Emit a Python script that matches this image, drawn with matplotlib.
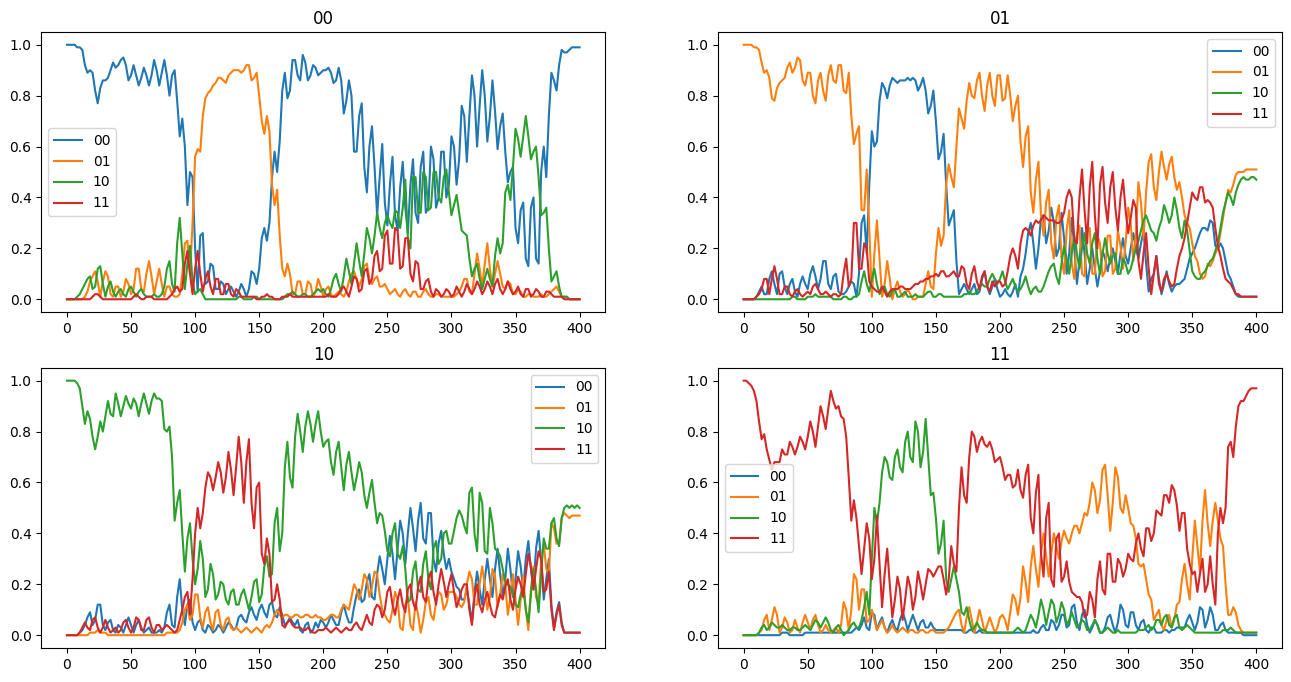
import matplotlib.pyplot as plt
import numpy as np

# sampled every 2 time steps, values in percent
t = np.arange(0, 401, 2)
labels = ['00', '01', '10', '11']

# ---- start in 00 ----
s00_00 = [100,100,100,100,99,99,98,92,89,90,
          89,82,77,83,86,86,87,90,93,91,
          92,94,95,92,86,88,92,88,84,87,
          91,88,84,88,94,90,84,89,94,88,
          80,88,90,78,64,71,60,37,50,48,
          20,3,25,26,6,7,14,13,4,4,
          7,6,2,4,5,3,1,3,6,4,
          1,4,11,10,6,12,24,28,23,30,
          48,58,50,62,82,89,79,82,94,94,
          88,86,96,93,86,88,92,91,88,89,
          90,90,91,89,85,86,91,86,73,78,
          86,80,58,58,72,77,52,42,60,68,
          52,33,48,61,38,29,45,56,33,27,
          44,54,36,26,45,55,34,30,52,58,
          34,36,60,55,36,40,58,58,40,45,
          64,60,45,55,76,72,54,72,88,80,
          60,76,90,80,62,72,86,74,59,68,
          73,58,46,50,52,28,22,35,38,16,
          13,36,40,16,14,50,60,48,72,89,
          86,82,92,98,97,97,98,99,99,99,
          99]
s00_01 = [0,0,0,0,0,0,0,1,3,7,
          9,11,7,1,7,11,9,2,1,5,
          5,1,3,8,6,2,4,12,12,4,
          3,10,15,9,2,7,12,6,1,5,
          5,2,1,1,2,10,22,23,10,30,
          56,59,58,72,79,81,82,84,85,87,
          87,86,85,88,89,90,90,90,89,90,
          92,92,86,87,89,80,70,65,72,66,
          45,37,43,25,12,9,14,10,2,2,
          7,7,2,2,7,6,1,3,8,5,
          1,4,5,2,1,2,3,2,1,3,
          7,10,11,8,5,8,13,14,8,6,
          8,9,5,5,6,4,2,3,4,2,
          1,3,4,2,1,3,3,1,1,3,
          4,2,1,1,2,2,1,1,1,1,
          1,1,2,3,5,8,8,3,2,10,
          18,12,5,14,22,12,5,10,15,10,
          5,4,7,6,2,2,4,3,1,1,
          2,2,1,1,1,2,1,1,2,3,
          4,5,3,1,1,1,0,0,0,0,
          0]
s00_10 = [0,0,0,0,1,2,4,6,8,9,
          4,5,12,13,6,1,5,7,3,1,
          3,4,2,1,4,5,3,1,3,4,
          2,1,1,1,2,1,1,2,5,12,
          15,6,3,22,32,18,4,14,21,7,
          2,3,4,2,0,0,0,0,0,0,
          0,0,0,0,0,0,0,1,1,0,
          0,0,0,1,1,0,0,0,0,0,
          0,0,0,0,0,1,2,2,3,2,
          1,1,2,2,1,1,2,3,4,3,
          4,2,1,4,8,10,6,3,9,16,
          11,6,14,22,15,9,18,28,24,18,
          25,34,28,24,30,33,30,28,35,34,
          28,36,47,24,20,48,48,34,34,50,
          48,35,36,50,50,40,38,48,51,42,
          33,37,41,34,27,26,25,16,9,12,
          14,8,4,8,12,8,5,17,24,18,
          22,42,45,39,52,67,63,56,64,72,
          64,55,58,60,48,33,34,36,20,7,
          9,11,5,1,1,1,0,0,0,0,
          0]
s00_11 = [0,0,0,0,0,0,0,0,0,0,
          1,2,2,1,0,0,0,0,0,0,
          0,0,0,0,0,0,1,2,1,0,
          0,1,1,1,0,0,0,0,0,0,
          1,2,4,5,3,4,14,19,10,2,
          12,19,10,3,8,11,5,2,8,8,
          2,2,6,6,2,1,4,3,1,1,
          1,1,1,1,0,0,1,1,2,1,
          1,0,0,0,1,1,1,2,1,1,
          1,1,1,1,1,1,1,1,1,1,
          1,1,2,1,1,1,2,4,5,3,
          1,5,9,8,3,4,11,12,6,8,
          17,19,11,12,25,27,14,14,28,27,
          12,13,24,24,10,7,15,14,4,4,
          7,8,3,1,4,3,1,2,4,3,
          1,2,5,3,1,3,6,4,2,4,
          7,5,2,4,7,5,2,6,8,4,
          2,4,7,4,2,3,5,2,1,4,
          4,1,2,4,3,1,1,3,3,2,
          1,1,1,1,0,0,0,0,0,0,
          0]

# ---- start in 01 ----
s01_00 = [0,0,0,0,0,1,3,5,2,2,
          8,11,6,2,10,11,5,2,6,8,
          3,1,6,9,6,4,10,13,9,4,
          8,15,15,6,4,9,10,3,2,2,
          3,5,7,6,1,10,30,33,18,45,
          66,60,62,78,85,83,79,84,87,86,
          85,86,86,86,87,86,87,86,82,84,
          87,82,73,76,82,70,55,58,65,45,
          29,32,35,15,2,4,6,4,2,4,
          6,2,3,8,11,5,2,5,8,4,
          1,2,4,2,1,3,6,1,9,12,
          18,26,30,22,12,20,32,33,22,27,
          36,30,17,20,34,24,10,18,32,20,
          6,15,28,18,6,12,20,12,5,11,
          19,16,11,16,20,15,10,18,24,17,
          14,20,26,20,16,22,27,14,3,8,
          10,17,8,2,6,11,6,3,5,6,
          6,7,8,12,16,18,20,23,26,28,
          28,27,31,30,21,20,22,20,15,10,
          8,5,2,1,1,1,1,1,1,1,
          1]
s01_01 = [100,100,100,100,99,99,98,93,89,90,
          87,79,78,83,85,86,87,91,93,89,
          91,95,94,86,84,89,89,80,77,86,
          89,82,78,88,92,86,85,92,92,82,
          81,89,72,61,65,68,35,35,51,28,
          1,18,31,16,1,6,15,8,0,4,
          7,3,1,2,4,2,0,0,1,1,
          1,6,11,5,4,18,28,21,25,45,
          53,48,44,60,75,71,67,78,85,80,
          79,86,89,80,74,84,89,80,76,88,
          88,78,79,88,80,70,76,80,62,52,
          64,68,42,34,47,54,33,25,38,43,
          22,16,32,37,16,10,27,35,14,8,
          25,29,10,9,27,28,10,10,25,22,
          9,11,25,25,10,12,27,21,12,22,
          36,30,15,25,46,38,24,42,54,57,
          44,39,50,58,52,47,53,56,48,43,
          46,40,33,30,28,22,17,15,10,8,
          9,14,13,15,18,20,26,32,38,43,
          42,45,49,50,50,50,51,51,51,51,
          51]
s01_10 = [0,0,0,0,0,0,0,0,0,0,
          0,0,0,0,0,0,0,0,0,1,
          1,0,0,0,0,1,1,1,2,1,
          1,1,1,1,1,0,0,0,0,1,
          1,0,0,1,1,2,7,11,6,3,
          8,12,6,2,4,5,2,1,3,4,
          1,1,2,3,1,1,1,2,1,1,
          1,2,3,3,1,1,2,2,1,1,
          1,1,1,1,1,1,2,2,3,2,
          2,3,5,6,5,5,8,10,8,6,
          8,11,7,4,6,8,5,3,4,6,
          9,5,2,4,5,3,3,5,8,11,
          13,14,9,6,14,21,16,10,18,25,
          18,12,20,26,18,14,22,26,16,10,
          18,24,18,14,17,18,10,10,16,14,
          10,12,16,20,23,27,31,33,30,27,
          26,23,28,31,37,34,30,33,40,35,
          28,24,31,27,19,11,9,8,8,10,
          11,13,15,16,19,22,28,34,38,42,
          40,37,42,45,47,48,47,47,48,48,
          47]
s01_11 = [0,0,0,0,0,1,2,4,8,8,
          2,8,13,8,2,2,5,5,2,1,
          3,4,2,1,2,3,2,5,6,4,
          2,2,3,2,1,2,2,1,2,10,
          16,5,8,30,30,12,12,22,20,7,
          5,4,3,3,5,3,1,3,4,4,
          4,5,5,4,4,4,5,6,6,7,
          7,8,8,9,9,10,9,11,11,9,
          9,10,11,9,9,13,12,6,4,10,
          13,7,4,9,11,5,3,7,5,7,
          7,5,6,11,17,20,17,12,22,27,
          28,27,25,29,31,30,31,33,32,31,
          31,31,30,30,31,34,40,43,40,23,
          22,40,51,35,22,44,54,33,20,45,
          52,38,30,44,50,36,27,40,47,35,
          26,32,39,36,15,8,18,26,12,2,
          10,17,6,3,8,10,7,5,6,12,
          17,20,24,30,36,42,40,39,44,44,
          38,39,38,36,28,21,17,12,8,7,
          6,4,2,2,1,1,1,1,1,1,
          1]

# ---- start in 10 ----
s10_00 = [0,0,0,0,0,1,2,4,7,9,
          4,6,12,12,4,2,5,6,2,1,
          4,3,1,4,7,4,1,4,6,3,
          1,2,3,1,1,1,2,1,3,9,
          12,4,3,15,22,10,4,12,14,5,
          2,5,6,2,1,4,3,1,2,4,
          3,1,3,5,4,2,3,7,8,6,
          5,9,11,8,6,10,12,9,7,12,
          13,8,7,11,8,4,5,7,5,4,
          6,2,1,4,5,1,2,5,3,6,
          5,3,5,8,6,4,4,9,12,8,
          5,5,11,16,18,13,14,21,24,15,
          14,24,31,26,20,30,39,32,22,34,
          45,40,28,40,50,42,33,45,52,38,
          36,48,48,30,25,36,41,32,26,30,
          25,22,19,18,14,14,18,12,5,17,
          25,18,12,22,30,22,15,26,34,24,
          15,22,34,26,15,22,33,27,18,30,
          37,26,18,34,41,29,14,22,30,12,
          3,9,13,5,1,1,1,1,1,1,
          1]
s10_01 = [0,0,0,0,0,0,0,0,0,1,
          1,1,2,1,1,1,0,0,0,0,
          0,0,0,0,0,0,0,0,0,0,
          0,0,0,0,0,0,0,0,0,1,
          1,1,1,1,2,5,10,12,6,8,
          16,16,7,3,9,11,5,2,9,10,
          4,2,6,7,3,2,3,2,1,2,
          3,2,1,2,3,2,1,3,4,3,
          5,8,10,8,7,8,8,7,7,8,
          8,7,7,8,8,7,7,8,7,7,
          6,6,7,8,8,7,7,10,12,11,
          10,15,20,18,14,18,24,22,15,19,
          25,24,16,10,8,6,5,10,17,14,
          3,2,12,15,4,2,13,8,1,6,
          13,15,8,6,13,17,16,10,12,17,
          17,17,15,12,11,13,20,25,22,12,
          12,20,27,20,10,15,26,23,11,16,
          24,20,8,15,24,14,4,14,23,10,
          2,18,27,15,12,30,36,26,24,44,
          42,36,36,46,48,47,46,47,47,47,
          47]
s10_10 = [100,100,100,100,99,97,90,83,88,85,
          78,73,78,84,80,86,92,87,86,95,
          91,86,90,94,91,89,93,91,86,91,
          95,91,87,92,95,93,93,92,81,80,
          82,70,45,52,57,40,25,38,44,30,
          20,26,37,30,15,18,28,24,14,16,
          21,20,14,12,17,18,12,12,16,18,
          14,10,15,21,22,13,16,27,31,23,
          24,44,50,33,40,66,76,62,58,78,
          87,80,72,82,88,83,76,83,88,80,
          74,76,77,68,63,72,76,66,57,67,
          72,64,57,62,68,64,55,50,56,61,
          52,44,48,47,41,33,31,40,44,32,
          30,35,26,13,14,25,29,18,17,28,
          33,22,18,34,37,28,30,40,41,36,
          36,41,46,49,47,43,40,56,58,40,
          33,56,52,33,32,50,44,34,33,31,
          26,21,20,19,16,12,11,16,19,10,
          5,16,26,18,9,24,38,34,34,44,
          46,38,35,46,50,51,50,51,50,51,
          50]
s10_11 = [0,0,0,0,0,1,3,5,3,2,
          6,7,3,1,3,6,3,1,2,3,
          1,2,5,6,3,1,3,7,6,2,
          2,6,7,3,1,4,4,2,3,4,
          3,2,1,2,6,10,15,17,8,22,
          40,50,42,48,58,64,62,57,62,68,
          64,56,62,72,65,55,66,78,68,52,
          68,77,52,42,58,60,32,28,38,32,
          13,14,20,14,4,3,5,6,4,3,
          3,3,2,2,3,2,1,1,2,2,
          2,3,2,1,2,3,2,1,2,3,
          2,2,4,5,3,2,5,8,5,4,
          10,12,11,7,10,17,19,12,8,14,
          18,12,9,18,20,13,10,19,23,15,
          13,22,25,17,12,20,26,21,15,20,
          24,17,11,14,18,20,20,10,4,15,
          20,12,9,14,17,12,8,7,12,16,
          14,19,22,14,10,18,23,20,15,24,
          32,27,18,26,33,30,17,18,25,10,
          2,8,12,4,1,1,1,1,1,1,
          1]

# ---- start in 11 ----
s11_00 = [0,0,0,0,0,0,0,0,0,0,
          0,0,0,0,0,1,1,1,0,0,
          0,0,0,0,1,1,1,1,1,1,
          1,1,1,1,1,1,1,1,1,1,
          1,1,1,2,3,2,4,7,3,2,
          9,8,2,5,7,3,1,4,6,3,
          2,6,9,6,2,5,8,5,2,5,
          6,3,3,5,3,2,2,2,2,2,
          2,2,2,2,2,2,1,1,2,2,
          1,1,2,1,1,1,1,1,1,1,
          1,1,1,1,1,1,1,1,1,1,
          1,1,1,2,1,1,3,4,2,2,
          6,5,2,4,8,8,3,4,11,12,
          5,2,8,10,4,1,3,6,4,1,
          1,3,7,8,4,1,5,12,10,4,
          3,9,9,4,2,5,6,2,1,3,
          3,1,1,1,2,2,1,2,2,3,
          3,3,3,6,8,5,2,5,11,10,
          3,6,11,8,2,2,4,5,2,1,
          1,1,1,1,1,0,0,0,0,0,
          0]
s11_01 = [0,0,0,0,0,0,1,2,6,8,
          2,6,11,8,1,3,7,5,1,2,
          6,3,1,5,8,5,2,6,8,4,
          1,2,4,2,1,2,3,1,4,13,
          10,2,10,24,22,10,18,18,5,6,
          10,6,2,4,6,3,1,2,4,2,
          1,2,3,2,1,2,2,1,1,2,
          2,1,1,2,2,1,1,1,1,2,
          3,5,7,9,10,4,1,7,11,6,
          1,5,10,6,1,4,7,4,1,3,
          7,8,6,2,9,16,14,8,15,27,
          21,13,27,35,26,19,32,40,31,23,
          32,40,35,30,37,41,38,36,40,43,
          43,40,44,48,47,52,60,57,48,53,
          65,67,55,41,52,66,62,50,48,55,
          50,44,43,38,28,27,28,22,16,14,
          6,8,10,4,2,6,8,3,6,12,
          13,22,28,20,14,30,45,35,25,45,
          57,44,35,45,52,45,38,35,20,8,
          8,11,9,4,2,1,1,1,1,1,
          1]
s11_10 = [0,0,0,0,0,0,1,3,4,2,
          3,5,4,3,3,4,3,2,2,3,
          3,2,2,3,4,3,2,4,6,5,
          3,5,7,5,2,1,3,4,2,0,
          1,2,4,5,3,3,6,11,17,8,
          30,50,44,52,64,70,68,62,61,70,
          73,66,64,76,80,70,68,84,80,66,
          72,85,70,55,56,46,32,36,45,22,
          17,22,27,22,17,9,8,11,6,2,
          3,5,3,2,2,1,1,1,1,1,
          1,1,1,1,1,1,2,3,2,1,
          2,5,8,6,3,8,14,10,4,9,
          14,12,5,8,13,10,4,6,9,6,
          3,4,6,5,2,2,4,6,4,1,
          1,2,3,2,1,1,2,1,1,1,
          1,1,1,1,2,2,2,3,4,2,
          3,6,6,4,7,8,4,3,7,8,
          3,2,3,4,3,2,1,1,1,1,
          1,1,1,1,1,1,1,2,2,2,
          3,2,1,1,1,1,1,1,1,1,
          1]
s11_11 = [100,100,99,98,96,92,84,77,79,73,
          69,65,68,68,68,73,71,71,76,74,
          71,74,78,76,73,78,84,80,74,82,
          90,86,81,89,96,92,89,90,86,85,
          78,62,45,53,46,35,24,34,44,38,
          22,30,47,28,11,24,34,20,7,14,
          23,18,6,14,23,19,10,15,25,20,
          14,20,26,25,23,25,27,27,22,16,
          22,35,28,25,50,66,55,52,70,80,
          78,72,76,78,75,74,76,73,68,69,
          70,66,61,63,63,58,59,65,57,54,
          63,67,46,40,56,63,32,23,46,52,
          22,19,38,40,21,23,29,21,17,16,
          15,15,13,7,8,17,14,7,22,29,
          18,16,32,32,21,21,30,28,23,26,
          32,30,29,36,40,34,31,42,42,37,
          40,49,48,47,55,55,52,59,57,51,
          41,48,48,34,28,24,25,17,24,30,
          17,20,31,20,12,40,50,44,50,74,
          76,70,82,90,92,92,94,96,97,97,
          97]

runs = [
    ('00', [s00_00, s00_01, s00_10, s00_11], 'center left'),
    ('01', [s01_00, s01_01, s01_10, s01_11], 'upper right'),
    ('10', [s10_00, s10_01, s10_10, s10_11], 'upper right'),
    ('11', [s11_00, s11_01, s11_10, s11_11], 'center left'),
]

fig, axes = plt.subplots(2, 2, figsize=(12.91, 6.82))
for ax, (title, series, loc) in zip(axes.flat, runs):
    for lab, vals in zip(labels, series):
        assert len(vals) == len(t), (title, lab, len(vals))
        ax.plot(t, np.array(vals) / 100, label=lab)
    ax.set_title(title)
    ax.legend(loc=loc)

plt.subplots_adjust(left=0.032, right=0.993, top=0.953, bottom=0.05,
                    wspace=0.2, hspace=0.2)
plt.savefig('out.png', dpi=100)
